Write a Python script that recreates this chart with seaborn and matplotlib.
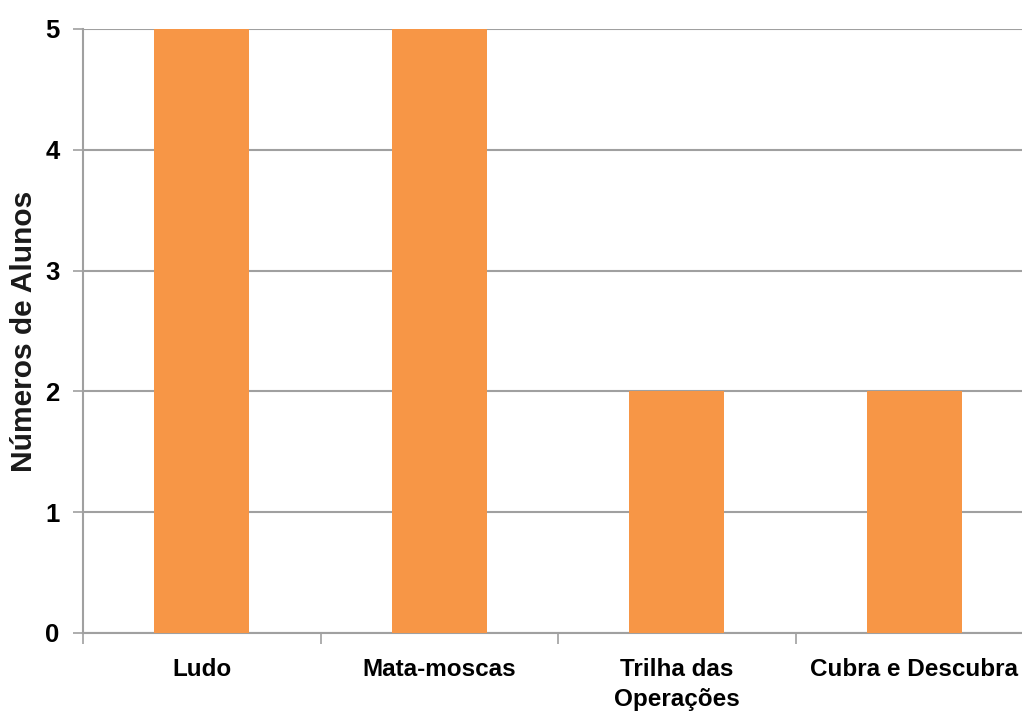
import matplotlib
matplotlib.use("Agg")
import matplotlib.pyplot as plt
import seaborn as sns
import pandas as pd

# Jogos e número de alunos que escolheram cada um
jogos = ["Ludo", "Mata-moscas", "Trilha das\nOperações", "Cubra e Descubra"]
alunos = [5, 5, 2, 2]
yticks = [0, 1, 2, 3, 4, 5]

sns.set_theme(style="white")
plt.rcParams["font.family"] = ["Liberation Sans", "DejaVu Sans"]

df = pd.DataFrame({"jogo": jogos, "alunos": alunos})

fig = plt.figure(figsize=(10.22, 7.11), dpi=100)
ax = fig.add_axes([83 / 1022, 78 / 711, 950 / 1022, 604 / 711])

sns.barplot(data=df, x="jogo", y="alunos", color="#F79646", saturation=1,
            width=0.4, linewidth=0, ax=ax, zorder=3)

grid_c = "#A0A0A0"
ax.set_ylim(0, 5)
ax.set_xlim(-0.5, len(jogos) - 0.5)
ax.set_yticks(yticks)
ax.yaxis.grid(True, color=grid_c, linewidth=1.5, zorder=0)
ax.set_axisbelow(True)

for side in ["top", "right"]:
    ax.spines[side].set_visible(False)
for side in ["left", "bottom"]:
    ax.spines[side].set_color(grid_c)
    ax.spines[side].set_linewidth(1.5)

# Marcas do eixo x nas divisões entre categorias
ax.set_xticks([i - 0.5 for i in range(len(jogos))], minor=True)
ax.tick_params(axis="x", which="minor", length=8, width=1.2, color=grid_c,
               bottom=True)
ax.tick_params(axis="x", which="major", length=0, pad=18, labelsize=17.5)
ax.tick_params(axis="y", length=7, width=1.2, color=grid_c, left=True,
               pad=10, labelsize=18.5)
for lab in ax.get_xticklabels() + ax.get_yticklabels():
    lab.set_fontweight("bold")
    lab.set_color("black")
for lab in ax.get_xticklabels():
    lab.set_linespacing(1.4)

ax.set_xlabel("")
ax.set_ylabel("Números de Alunos", fontsize=21.5, fontweight="bold",
              color="#1a1a1a")
ax.yaxis.set_label_coords(-(83 - 38) / 950, 0.5)

fig.savefig("out.png", dpi=100)
